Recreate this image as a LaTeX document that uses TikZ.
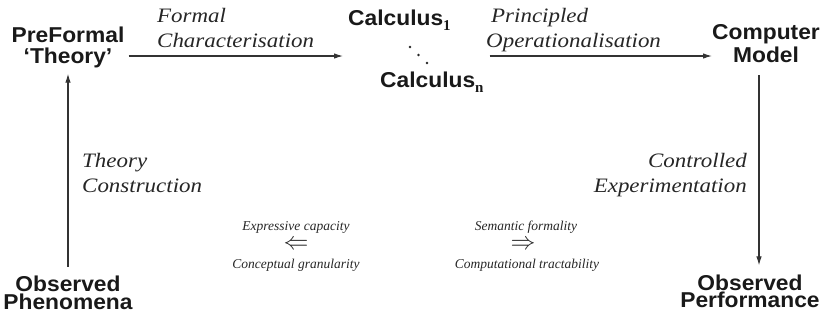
\documentclass[tikz,border=0pt]{standalone}
\usepackage{fontspec}
\setmainfont{Liberation Serif}
\newfontfamily\hv{Liberation Sans}[FakeStretch=1.06]
\newfontfamily\labfont{Liberation Serif}[FakeStretch=1.12]
\newfontfamily\tms{Liberation Serif}
\usetikzlibrary{arrows.meta}
\newcommand{\subsc}[1]{\raisebox{-5pt}{\tms\bfseries\fontsize{15}{15}\selectfont #1}}
\begin{document}
\begin{tikzpicture}[x=1pt,y=-1pt,
  big/.style={font=\hv\bfseries\fontsize{21.5}{21}\selectfont, align=center, inner sep=0pt, text=black!90},
  lab/.style={font=\labfont\itshape\fontsize{20.5}{25}\selectfont, inner sep=0pt, text=black!85},
  small/.style={font=\itshape\fontsize{13.5}{14}\selectfont, inner sep=0pt, anchor=base, text=black!85},
  impl/.style={font=\fontsize{24}{24}\selectfont, inner sep=0pt, text=black!85},
  arr/.style={draw=black!80, line width=1.1pt, -{Latex[length=9pt,width=5.5pt]}},
  dot/.style={fill=black!85, draw=none},
]
\useasboundingbox (0,0) rectangle (821,325);

% main nodes (base = baseline of the last line)
\node[big, anchor=base] (pre) at (68,63) {PreFormal\\‘Theory’};
\node[big, anchor=base west] (calc1) at (348,25) {Calculus\subsc{1}};
\node[big, anchor=base west] (calcn) at (380,87) {Calculus\subsc{n}};
\node[big, anchor=base, font=\hv\bfseries\fontsize{21.5}{23}\selectfont] (comp) at (766,62) {Computer\\Model};
\node[big, anchor=base, font=\hv\bfseries\fontsize{21.5}{17.5}\selectfont] (obsph) at (68,309) {Observed\\Phenomena};
\node[big, anchor=base, font=\hv\bfseries\fontsize{21.5}{15}\selectfont] (obspf) at (750,307) {Observed\\Performance};

% diagonal dots between the calculi
\fill[dot] (410,47) circle (1.3);
\fill[dot] (418.5,55) circle (1.3);
\fill[dot] (427,63) circle (1.3);

% helper coordinates
\coordinate (h1) at (0,56);
\coordinate (vx) at (759,0);
\coordinate (cs) at ([yshift=-13pt]comp.south);
\coordinate (pe) at ([yshift=9pt]obspf.north);
\coordinate (ps) at ([yshift=9pt]obsph.north);
\coordinate (pt) at ([yshift=-6pt]pre.south);

% connectors
\draw[arr, shorten <=4pt, shorten >=5pt] (pre.east |- h1) -- (calc1.west |- h1);
\draw[arr, shorten <=6pt] (calcn.east |- h1) -- (comp.west |- h1);
\draw[arr] (ps) -- (pt);
\draw[arr] (cs -| vx) -- (pe -| vx);

% edge labels (base = baseline of the last line)
\node[lab, anchor=base west, align=left] (l1) at (157,47) {Formal\\Characterisation};
\node[lab, anchor=base west, align=left] (l2) at (486,47) {\hspace{5pt}Principled\\Operationalisation};
\node[lab, anchor=base west, align=left] (l3) at (82,192) {Theory\\Construction};
\node[lab, anchor=base east, align=right] (l4) at (747,192) {Controlled\\Experimentation};

% trade-offs
\node[small] (e1) at (296,230) {Expressive capacity};
\node[impl] (e2) at (296,245) {$\Leftarrow$};
\node[small] (e3) at (296,268) {Conceptual granularity};
\node[small] (s1) at (526,230) {Semantic formality};
\node[impl] (s2) at (523,245) {$\Rightarrow$};
\node[small] (s3) at (527,268) {Computational tractability};
\end{tikzpicture}
\end{document}
